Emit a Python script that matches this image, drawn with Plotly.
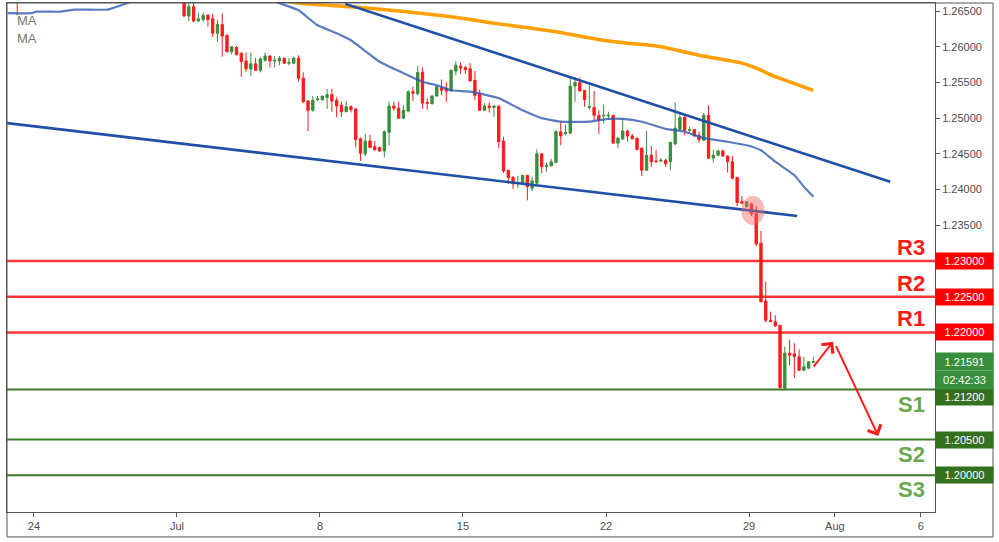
import plotly.graph_objects as go

# 4h bars, x = bar number counted from the first bar of Mon 24 Jun 2019 (weekends skipped, 6 bars a day)
bar = [-3] + list(range(32, 165))

opens = [1.2695,
    1.2668, 1.2643, 1.2656, 1.2636, 1.2638, 1.2644, 1.2639, 1.2619, 1.2631, 1.2616,
    1.2593, 1.2599, 1.2591, 1.2580, 1.2569, 1.2576, 1.2567, 1.2581, 1.2587, 1.2580,
    1.2580, 1.2584, 1.2577, 1.2577, 1.2584, 1.2556, 1.2524, 1.2511, 1.2526, 1.2526,
    1.2529, 1.2533, 1.2525, 1.2518, 1.2509, 1.2516, 1.2513, 1.2471, 1.2450, 1.2468,
    1.2460, 1.2459, 1.2454, 1.2480, 1.2517, 1.2514, 1.2500, 1.2510, 1.2537, 1.2534,
    1.2564, 1.2522, 1.2520, 1.2531, 1.2543, 1.2542, 1.2538, 1.2566, 1.2573, 1.2571,
    1.2569, 1.2553, 1.2534, 1.2511, 1.2517, 1.2515, 1.2517, 1.2468, 1.2427, 1.2417,
    1.2408, 1.2408, 1.2420, 1.2402, 1.2409, 1.2450, 1.2432, 1.2433, 1.2438, 1.2481,
    1.2478, 1.2479, 1.2545, 1.2550, 1.2539, 1.2515, 1.2515, 1.2504, 1.2503, 1.2503,
    1.2504, 1.2465, 1.2471, 1.2482, 1.2475, 1.2472, 1.2458, 1.2427, 1.2448, 1.2440,
    1.2440, 1.2441, 1.2439, 1.2464, 1.2484, 1.2501, 1.2483, 1.2484, 1.2476, 1.2469,
    1.2504, 1.2444, 1.2448, 1.2454, 1.2447, 1.2439, 1.2417, 1.2383, 1.2376, 1.2380,
    1.2366, 1.2325, 1.2244, 1.2217, 1.2215, 1.2210, 1.2122, 1.2171, 1.2170, 1.2166,
    1.2147, 1.2150, 1.2158]
highs = [1.2702,
    1.2675, 1.2661, 1.2661, 1.2648, 1.2648, 1.2646, 1.2646, 1.2638, 1.2647, 1.2617,
    1.2601, 1.2601, 1.2592, 1.2592, 1.2592, 1.2584, 1.2585, 1.2592, 1.2588, 1.2587,
    1.2587, 1.2584, 1.2584, 1.2586, 1.2588, 1.2564, 1.2525, 1.2531, 1.2531, 1.2531,
    1.2541, 1.2541, 1.2529, 1.2523, 1.2524, 1.2518, 1.2513, 1.2473, 1.2478, 1.2477,
    1.2468, 1.2460, 1.2483, 1.2523, 1.2523, 1.2523, 1.2518, 1.2539, 1.2544, 1.2573,
    1.2571, 1.2528, 1.2532, 1.2545, 1.2554, 1.2550, 1.2568, 1.2580, 1.2578, 1.2573,
    1.2577, 1.2566, 1.2540, 1.2521, 1.2522, 1.2518, 1.2517, 1.2474, 1.2428, 1.2419,
    1.2419, 1.2420, 1.2420, 1.2418, 1.2456, 1.2450, 1.2438, 1.2443, 1.2483, 1.2496,
    1.2491, 1.2559, 1.2558, 1.2557, 1.2539, 1.2546, 1.2538, 1.2511, 1.2519, 1.2509,
    1.2504, 1.2473, 1.2500, 1.2484, 1.2478, 1.2472, 1.2459, 1.2482, 1.2461, 1.2456,
    1.2444, 1.2443, 1.2467, 1.2522, 1.2508, 1.2504, 1.2488, 1.2484, 1.2481, 1.2507,
    1.2518, 1.2455, 1.2456, 1.2456, 1.2448, 1.2447, 1.2417, 1.2391, 1.2383, 1.2382,
    1.2377, 1.2342, 1.2271, 1.2229, 1.2224, 1.2210, 1.2180, 1.2190, 1.2185, 1.2176,
    1.2166, 1.2160, 1.2166]
lows = [1.2644,
    1.2642, 1.2636, 1.2634, 1.2635, 1.2635, 1.2628, 1.2614, 1.2607, 1.2586, 1.2592,
    1.2589, 1.2588, 1.2558, 1.2565, 1.2559, 1.2566, 1.2564, 1.2579, 1.2571, 1.2571,
    1.2574, 1.2576, 1.2574, 1.2576, 1.2551, 1.2521, 1.2482, 1.2509, 1.2524, 1.2524,
    1.2513, 1.2509, 1.2501, 1.2502, 1.2509, 1.2508, 1.2459, 1.2440, 1.2447, 1.2458,
    1.2454, 1.2453, 1.2445, 1.2462, 1.2510, 1.2499, 1.2499, 1.2508, 1.2524, 1.2532,
    1.2513, 1.2512, 1.2520, 1.2530, 1.2532, 1.2523, 1.2538, 1.2560, 1.2562, 1.2562,
    1.2552, 1.2525, 1.2511, 1.2511, 1.2508, 1.2502, 1.2458, 1.2423, 1.2408, 1.2401,
    1.2402, 1.2408, 1.2385, 1.2398, 1.2406, 1.2423, 1.2425, 1.2433, 1.2437, 1.2462,
    1.2476, 1.2478, 1.2523, 1.2538, 1.2516, 1.2512, 1.2497, 1.2478, 1.2493, 1.2498,
    1.2465, 1.2458, 1.2469, 1.2467, 1.2470, 1.2455, 1.2419, 1.2427, 1.2432, 1.2438,
    1.2438, 1.2432, 1.2427, 1.2462, 1.2484, 1.2476, 1.2479, 1.2474, 1.2465, 1.2468,
    1.2443, 1.2438, 1.2447, 1.2446, 1.2424, 1.2414, 1.2377, 1.2381, 1.2375, 1.2363,
    1.2321, 1.2242, 1.2214, 1.2215, 1.2208, 1.2121, 1.2120, 1.2154, 1.2136, 1.2147,
    1.2146, 1.2149, 1.2158]
closes = [1.2680,
    1.2643, 1.2656, 1.2636, 1.2639, 1.2644, 1.2638, 1.2619, 1.2631, 1.2615, 1.2593,
    1.2600, 1.2589, 1.2579, 1.2569, 1.2576, 1.2567, 1.2583, 1.2587, 1.2580, 1.2581,
    1.2584, 1.2577, 1.2578, 1.2584, 1.2556, 1.2523, 1.2511, 1.2525, 1.2527, 1.2531,
    1.2533, 1.2524, 1.2517, 1.2509, 1.2516, 1.2512, 1.2470, 1.2451, 1.2468, 1.2459,
    1.2456, 1.2454, 1.2481, 1.2517, 1.2514, 1.2500, 1.2511, 1.2537, 1.2535, 1.2564,
    1.2521, 1.2521, 1.2531, 1.2544, 1.2539, 1.2538, 1.2567, 1.2574, 1.2570, 1.2568,
    1.2552, 1.2532, 1.2511, 1.2517, 1.2515, 1.2517, 1.2467, 1.2426, 1.2417, 1.2408,
    1.2410, 1.2420, 1.2404, 1.2412, 1.2450, 1.2432, 1.2434, 1.2439, 1.2481, 1.2475,
    1.2480, 1.2545, 1.2550, 1.2538, 1.2526, 1.2516, 1.2504, 1.2497, 1.2504, 1.2504,
    1.2465, 1.2472, 1.2482, 1.2475, 1.2471, 1.2456, 1.2427, 1.2448, 1.2439, 1.2439,
    1.2441, 1.2436, 1.2466, 1.2486, 1.2501, 1.2483, 1.2484, 1.2475, 1.2470, 1.2504,
    1.2444, 1.2448, 1.2454, 1.2447, 1.2439, 1.2416, 1.2382, 1.2381, 1.2383, 1.2366,
    1.2324, 1.2243, 1.2217, 1.2215, 1.2209, 1.2123, 1.2171, 1.2168, 1.2166, 1.2147,
    1.2152, 1.2159, 1.21591]

# moving averages (values above the top edge estimated)
ma_fast_x = [-5, 0, 1, 6, 9, 16, 20, 36, 52, 56, 60, 64, 67, 73, 78, 82, 85, 88, 92, 98,
             103, 107, 111, 117, 121, 124, 128, 133, 137, 141, 146, 150, 153, 156, 160, 162, 164]
ma_fast_y = [1.2647, 1.2647, 1.2649, 1.2649, 1.2652, 1.2652, 1.2661, 1.2700, 1.2661, 1.2651,
             1.2630, 1.2619, 1.2609, 1.2579, 1.2563, 1.2551, 1.2546, 1.2539, 1.2537, 1.2528,
             1.2511, 1.2500, 1.2495, 1.2495, 1.2499, 1.2499, 1.2495, 1.2485, 1.2481, 1.2472,
             1.2467, 1.2462, 1.2455, 1.2439, 1.2420, 1.2404, 1.2390]
ma_slow_x = [50, 56, 67, 77, 88, 98, 109, 120, 125, 132, 140, 149, 152, 156, 161, 164]
ma_slow_y = [1.2670, 1.2661, 1.2656, 1.2650, 1.2642, 1.2632, 1.2622, 1.2609, 1.2605, 1.2600,
             1.2588, 1.2577, 1.2570, 1.2558, 1.2546, 1.2539]

# channel lines
upper_x = [65.8, 180.1]
upper_y = [1.2660, 1.2411]
lower_x = [-5.1, 160.6]
lower_y = [1.2493, 1.2363]

resist = {"R3": 1.2300, "R2": 1.2250, "R1": 1.2200}
support = {"S1": 1.2120, "S2": 1.2050, "S3": 1.2000}
last_price = 1.21591
countdown = "02:42:33"

# price scale labels not covered by the level boxes
price_ticks = [1.265, 1.260, 1.255, 1.250, 1.245, 1.240, 1.235]

# x axis labels, trading days after Mon 24 Jun
tick_labels = ["24", "Jul", "8", "15", "22", "29", "Aug", "6"]
tick_days = [0, 5, 10, 15, 20, 25, 28, 31]

RED = "#ff1a1a"
GREEN = "#388e3c"
DARK_GREEN = "#35701f"
LIGHT_GREEN = "#6aa84f"
FONT = "Liberation Sans"

fig = go.Figure()
fig.add_trace(go.Candlestick(
    x=bar, open=opens, high=highs, low=lows, close=closes,
    increasing=dict(line=dict(color=GREEN, width=1), fillcolor=GREEN),
    decreasing=dict(line=dict(color=RED, width=1), fillcolor=RED),
    hoverinfo="skip",
))
fig.add_trace(go.Scatter(x=ma_slow_x, y=ma_slow_y, mode="lines",
                         line=dict(color="#ffa000", width=3.5, shape="spline", smoothing=0.6)))
fig.add_trace(go.Scatter(x=ma_fast_x, y=ma_fast_y, mode="lines",
                         line=dict(color="rgba(50,90,175,0.8)", width=2.2, shape="spline", smoothing=0.4)))
for xs, ys in [(upper_x, upper_y), (lower_x, lower_y)]:
    fig.add_trace(go.Scatter(x=xs, y=ys, mode="lines", line=dict(color="#1f4fa6", width=2.6)))

# support / resistance lines with labels and axis price boxes
for name, lvl in resist.items():
    fig.add_shape(type="line", xref="paper", x0=0, x1=1, y0=lvl, y1=lvl,
                  line=dict(color="rgba(255,20,20,0.85)", width=2.5))
    fig.add_annotation(text="<b>%s</b>" % name, xref="paper", x=0.991, y=lvl, xanchor="right",
                       yanchor="bottom", yshift=-1, showarrow=False,
                       font=dict(family=FONT, size=22, color=RED))
    fig.add_annotation(text="%.5f" % lvl, xref="paper", x=1, y=lvl, xanchor="left", yanchor="middle",
                       showarrow=False, bgcolor="#ff0000", width=55, height=14, borderpad=1,
                       font=dict(family=FONT, size=11, color="white"))
for name, lvl in support.items():
    fig.add_shape(type="line", xref="paper", x0=0, x1=1, y0=lvl, y1=lvl,
                  line=dict(color="#3f7a25", width=2))
    fig.add_annotation(text="<b>%s</b>" % name, xref="paper", x=0.991, y=lvl, xanchor="right",
                       yanchor="top", yshift=0, showarrow=False,
                       font=dict(family=FONT, size=22, color=LIGHT_GREEN))
    fig.add_annotation(text="%.5f" % lvl, xref="paper", x=1, y=lvl, xanchor="left", yanchor="middle",
                       yshift=-7 if name == "S1" else 0,
                       showarrow=False, bgcolor=DARK_GREEN, width=55, height=14, borderpad=1,
                       font=dict(family=FONT, size=11, color="white"))

fig.add_annotation(text="%.5f" % last_price, xref="paper", x=1, y=last_price, xanchor="left",
                   yanchor="middle", showarrow=False, bgcolor=GREEN, width=55, height=15, borderpad=1,
                   font=dict(family=FONT, size=11, color="white"))
fig.add_annotation(text=countdown, xref="paper", x=1, y=last_price, xanchor="left",
                   yanchor="middle", yshift=-18, showarrow=False, bgcolor=GREEN, width=55, height=16,
                   borderpad=1, font=dict(family=FONT, size=11, color="white"))

# projected path arrows
fig.add_annotation(x=168.1, y=1.2187, ax=163.8, ay=1.2150, xref="x", yref="y", axref="x", ayref="y",
                   text="", showarrow=True, arrowhead=4, arrowsize=1.4, arrowwidth=2, arrowcolor=RED)
fig.add_annotation(x=177.6, y=1.2055, ax=168.6, ay=1.2183, xref="x", yref="y", axref="x", ayref="y",
                   text="", showarrow=True, arrowhead=4, arrowsize=1.4, arrowwidth=2, arrowcolor=RED)

# breakout marker
fig.add_shape(type="circle", xref="x", yref="y", x0=148.85, x1=153.75, y0=1.23504, y1=1.2391,
              fillcolor="rgba(245,100,100,0.45)", line=dict(width=0), layer="above")

for i, t in enumerate(["MA", "MA"]):
    fig.add_annotation(text=t, xref="paper", yref="paper", x=0.009, y=0.965 - i * 0.034,
                       xanchor="left", yanchor="middle", showarrow=False,
                       font=dict(family=FONT, size=13, color="#777777"))

# outer frame around plot + price scale + time scale
fig.add_shape(type="rect", xref="paper", yref="paper", x0=0, x1=1.0625, y0=-0.049, y1=1,
              line=dict(color="#555555", width=1))

fig.update_layout(
    width=999, height=542,
    margin=dict(l=7, r=64, t=3, b=30),
    paper_bgcolor="white", plot_bgcolor="white",
    showlegend=False,
    font=dict(family=FONT, size=11, color="#4d4d4d"),
    xaxis=dict(range=[-5.14, 189.5], tickvals=[6 * d + 0.5 for d in tick_days], ticktext=tick_labels,
               ticks="outside", ticklen=4, tickcolor="#555555", showgrid=False, zeroline=False,
               showline=True, linecolor="#555555", mirror=True, rangeslider=dict(visible=False),
               fixedrange=True),
    yaxis=dict(side="right", range=[1.19486, 1.26612], tickvals=price_ticks, tickformat=".5f",
               ticks="outside", ticklen=4, tickcolor="#555555", showgrid=False, zeroline=False,
               showline=True, linecolor="#555555", mirror=True, fixedrange=True),
)

fig.write_html("out.html", config={"displayModeBar": False},
               post_script="document.body.style.margin = '0';")
